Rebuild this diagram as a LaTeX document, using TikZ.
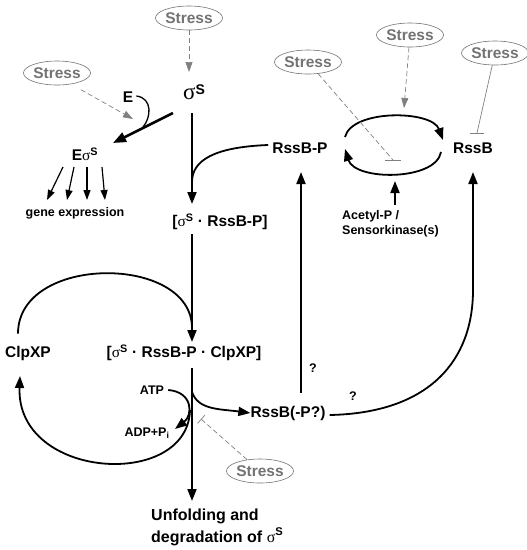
\documentclass[tikz,border=0pt]{standalone}
\usepackage{fontspec}
\setmainfont{Liberation Sans}
\newfontfamily\grk{Liberation Serif}
\usetikzlibrary{arrows.meta,shapes.geometric}
\newcommand{\sigS}{{\grk\mdseries σ}\textsuperscript{S}}
\begin{document}
\begin{tikzpicture}[x=1pt, y=-1pt,
    every node/.style={inner sep=0pt, font=\bfseries\fontsize{15.5}{17}\selectfont},
    small/.style={font=\bfseries\fontsize{12.5}{15}\selectfont},
    stress/.style={ellipse, draw=black!55, line width=0.6pt, text=black!55, minimum width=58pt, minimum height=24pt},
    link/.style={line width=1.8pt, -{Triangle[length=12pt,width=9pt]}},
    plain/.style={line width=1.8pt},
    hint/.style={black!50, dash pattern=on 5pt off 3pt, line width=0.7pt, -{Triangle[length=10pt,width=7pt]}},
    block/.style={black!50, dash pattern=on 5pt off 3pt, line width=0.7pt}]
  \useasboundingbox (0,0) rectangle (527,550);

  % nodes
  \node[stress] (stressT) at (189,18) {Stress};
  \node[stress] (stressL) at (57,73) {Stress};
  \node[stress] (stressRP) at (308,62) {Stress};
  \node[stress] (stressM) at (410,35) {Stress};
  \node[stress] (stressR) at (495,53) {Stress};
  \node[stress] (stressB) at (260,471) {Stress};
  \node (sigma) at (194,92) {{\grk\mdseries\fontsize{23}{23}\selectfont σ}\raisebox{5pt}{\fontsize{14}{14}\selectfont S}};
  \node (E) at (128,97) {E};
  \node (Esig) at (85,154) {E\sigS};
  \node[small] (gene) at (75,213) {gene expression};
  \node (cplx1) at (220,222) {[\sigS\ · RssB-P]};
  \node (cplx2) at (184,353) {[\sigS\ · RssB-P · ClpXP]};
  \node (clpxp) at (28,353) {ClpXP};
  \node (rssbp) at (300,148) {RssB-P};
  \node (rssb) at (473,148) {RssB};
  \node[small, anchor=west, align=left] (acetyl) at (342,224) {Acetyl-P /\\Sensorkinase(s)};
  \node (rssbq) at (288,413) {RssB(-P?)};
  \node[small] (atp) at (152,390) {ATP};
  \node[small] (adp) at (147,433) {ADP+P\textsubscript{i}};
  \node[small] (q1) at (313,368) {?};
  \node[small] (q2) at (353,396) {?};
  \node[anchor=west, align=left, font=\bfseries\fontsize{16}{22}\selectfont] (unfold) at (151,527)
    {Unfolding and\\degradation of \sigS};

  % points on the main line
  \coordinate (sigIn) at (189,72);
  \coordinate (holoIn) at (133,119);
  \coordinate (eJoin) at (143,127);
  \coordinate (bindA) at (173,113);
  \coordinate (bindB) at (113,143);
  \coordinate (v1a) at (192,113);
  \coordinate (v1b) at (192,204);
  \coordinate (v2a) at (192,234);
  \coordinate (v2b) at (192,342);
  \coordinate (v3a) at (192,368);
  \coordinate (v3b) at (192,501);
  \coordinate (inhA) at (393,160);
  \coordinate (inhR) at (477,133);
  \coordinate (inhB) at (201,419);
  \coordinate (cycIn) at (404,108);
  \coordinate (cycUp) at (395,181);

  % sigma S and holoenzyme
  \draw[hint] (stressT) -- (sigIn);
  \draw[hint] (stressL.south east) ++(0,8) -- (holoIn);
  \draw[plain, line width=1.3pt] (E.east) ++(3,-1) .. controls (153,98) and (151,118) .. (eJoin);
  \draw[line width=2.6pt, -{Triangle[length=13pt,width=10pt]}] (bindA) -- (bindB);
  \foreach \xa/\xb in {63/47, 74/67, 87/87, 102/105}
    \draw[line width=1.2pt, -{Triangle[length=10pt,width=7pt]}] (\xa,167) -- (\xb,200);

  % main line
  \draw[link] (v1a) -- (v1b);
  \draw[plain] (rssbp.west) ++(-4,-3) .. controls (215,147) and (192,160) .. (192,182);
  \draw[link] (v2a) -- (v2b);
  \draw[plain] (clpxp.north) ++(-10,-12) .. controls (18,254) and (192,254) .. (192,328);
  \draw[link] (v3a) -- (v3b);
  \draw[plain, -{Triangle[length=12pt,width=9pt]}] (atp.east) ++(4,0) .. controls (193,392) and (193,415) .. (175,429);
  \draw[plain, -{Triangle[length=12pt,width=9pt]}] (190,410) .. controls (188,490) and (16,480) .. (20,376);
  \draw[plain, -{Triangle[length=12pt,width=9pt]}] (192,392) .. controls (198,410) and (220,409) .. (rssbq.west);
  \draw[block, -{Bar[width=11pt]}] (stressB) -- (inhB);

  % RssB cycle
  \draw[link] (rssbq.north) ++(13,-13) -- (301,172);
  \draw[plain] (rssbq.east) ++(4,2) .. controls (430,413) and (473,360) .. (473,290);
  \draw[link] (473,291) -- (473,172);
  \draw[plain, -{Triangle[length=12pt,width=9pt]}] (345,137) .. controls (352,109) and (432,110) .. (443,140);
  \draw[plain, -{Triangle[length=12pt,width=9pt]}] (441,152) .. controls (436,181) and (355,181) .. (345,149);
  \draw[block] (stressRP) -- (inhA);
  \draw[black!50, line width=0.7pt] (inhA) +(-8,0) -- +(8,0);
  \draw[hint] (stressM) -- (cycIn);
  \draw[black!50, line width=0.7pt] (stressR) -- (inhR);
  \draw[black!50, line width=0.7pt] (inhR) +(-7,0) -- +(7,0);
  \draw[link] (395,205) -- (cycUp);
\end{tikzpicture}
\end{document}
